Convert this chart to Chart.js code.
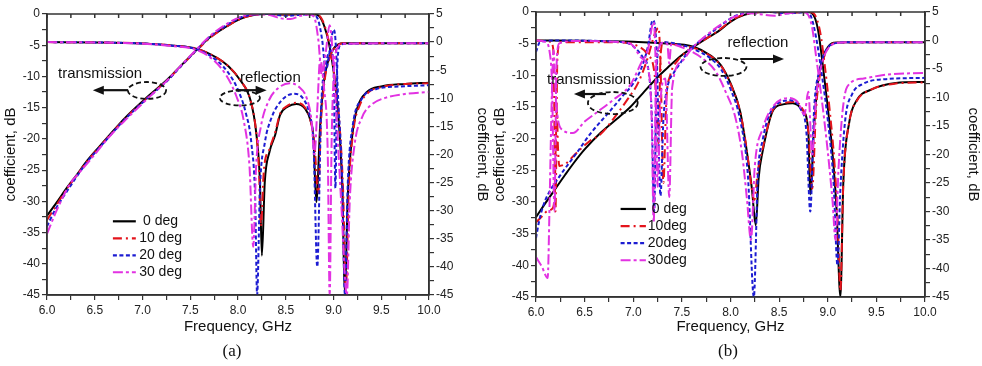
<!DOCTYPE html>
<html><head><meta charset="utf-8">
<script src="https://cdn.jsdelivr.net/npm/chart.js@4"></script>
<style>
body{margin:0;background:#fff;width:982px;height:366px;overflow:hidden;position:relative}
canvas{position:absolute;top:0}
#ca{left:0}#cb{left:491px}
.lab{position:absolute;top:341px;font-family:"Liberation Serif","Times New Roman",serif;font-size:17px;color:#111;width:60px;text-align:center;line-height:20px}
</style></head><body>
<canvas id="ca" width="491" height="366"></canvas>
<canvas id="cb" width="491" height="366"></canvas>
<div class="lab" style="left:202px">(a)</div>
<div class="lab" style="left:698px">(b)</div>
<script>
// ---------- DATA: [frequency GHz, dB] ----------
// Panel (a) transmission (left axis)
const A_T0 = [[6.0,-32.3],[6.1,-30.2],[6.2,-28.0],[6.3,-26.0],[6.42,-23.5],[6.55,-21.2],[6.7,-18.6],[6.82,-16.6],[7.05,-13.3],[7.26,-10.5],[7.4,-8.3],[7.57,-5.7],[7.7,-3.8],[7.88,-2.0],[8.02,-0.8],[8.15,-0.2],[8.3,0],[8.5,-0.1],[8.7,0],[8.82,-0.1],[8.86,-0.5],[8.9,-1.8],[8.95,-4.5],[9.0,-9],[9.05,-16],[9.09,-27],[9.12,-44.5],[9.15,-29],[9.2,-19],[9.25,-15],[9.35,-12.5],[9.5,-11.6],[9.75,-11.2],[10.0,-11.0]];
const A_T10 = [[6.0,-33],[6.1,-30.6],[6.2,-28.2],[6.3,-26.1],[6.42,-23.6],[6.55,-21.3],[6.7,-18.7],[6.82,-16.7],[7.05,-13.4],[7.26,-10.6],[7.4,-8.4],[7.57,-5.8],[7.7,-3.9],[7.88,-2.0],[8.02,-0.8],[8.15,-0.2],[8.3,0],[8.5,-0.1],[8.7,0],[8.83,-0.1],[8.87,-0.6],[8.91,-2],[8.96,-5],[9.01,-10],[9.06,-17],[9.1,-28],[9.13,-44],[9.16,-28],[9.21,-18.5],[9.27,-14.8],[9.37,-12.5],[9.5,-11.7],[9.75,-11.2],[10.0,-11.1]];
const A_T20 = [[6.0,-34],[6.08,-31.5],[6.2,-28.6],[6.3,-26.3],[6.42,-23.7],[6.55,-21.4],[6.7,-18.8],[6.82,-16.8],[7.05,-13.5],[7.26,-10.7],[7.4,-8.4],[7.57,-5.7],[7.7,-3.7],[7.88,-1.8],[8.02,-0.6],[8.15,-0.1],[8.3,0],[8.5,-0.3],[8.7,-0.1],[8.8,-0.2],[8.84,-1],[8.88,-4],[8.92,-9],[8.96,-6],[9.0,-2.5],[9.02,-4],[9.05,-14],[9.09,-26],[9.12,-45],[9.15,-27],[9.2,-18],[9.3,-13.5],[9.45,-12],[9.7,-11.6],[10.0,-11.4]];
const A_T30 = [[6.0,-35.2],[6.1,-31.5],[6.24,-27.2],[6.35,-25.2],[6.5,-22.5],[6.65,-19.7],[6.82,-17],[7.05,-13.6],[7.26,-10.6],[7.4,-8.3],[7.57,-5.6],[7.7,-3.6],[7.88,-1.6],[8.02,-0.5],[8.15,-0.1],[8.3,-0.1],[8.45,-0.7],[8.55,-0.8],[8.65,-0.3],[8.75,-0.1],[8.8,-0.6],[8.84,-4],[8.88,-10],[8.92,-6],[8.96,-1.8],[8.99,-6],[9.03,-16],[9.08,-30],[9.14,-45],[9.17,-30],[9.22,-21],[9.3,-16.5],[9.4,-14.5],[9.55,-13.4],[9.75,-12.8],[10.0,-12.5]];
// Panel (a) reflection (right axis)
const A_R0 = [[6.0,0],[6.5,-0.05],[7.0,-0.25],[7.3,-0.6],[7.57,-1.2],[7.78,-2.8],[7.9,-4.3],[8.02,-6.7],[8.13,-10.3],[8.19,-16],[8.23,-25],[8.25,-38],[8.28,-25],[8.33,-19.5],[8.39,-16.5],[8.44,-13],[8.52,-11.5],[8.61,-11],[8.7,-11.8],[8.76,-14],[8.79,-17],[8.82,-28.5],[8.86,-15],[8.9,-7],[8.95,-3],[9.0,-1.2],[9.05,-0.4],[9.1,-0.2],[10.0,-0.2]];
const A_R10 = [[6.0,0],[6.5,-0.05],[7.0,-0.25],[7.3,-0.6],[7.57,-1.2],[7.78,-2.8],[7.9,-4.3],[8.02,-6.7],[8.13,-10.3],[8.19,-16],[8.22,-23],[8.24,-32.8],[8.27,-23],[8.33,-19],[8.39,-16],[8.44,-12.8],[8.52,-11.3],[8.61,-10.8],[8.7,-11.6],[8.76,-14],[8.8,-18],[8.84,-27],[8.87,-14],[8.91,-6.5],[8.96,-2.8],[9.01,-1.1],[9.06,-0.4],[9.1,-0.2],[10.0,-0.2]];
const A_R20 = [[6.0,0],[6.5,-0.05],[7.0,-0.25],[7.3,-0.6],[7.57,-1.3],[7.78,-3.3],[7.9,-5.5],[8.0,-8.5],[8.08,-12.5],[8.14,-18],[8.18,-28],[8.2,-45],[8.23,-26],[8.28,-18],[8.35,-13.5],[8.45,-10.5],[8.58,-9.2],[8.68,-10],[8.75,-13],[8.79,-18],[8.83,-40],[8.87,-12],[8.92,-4],[8.97,-1.5],[9.0,-4],[9.02,-26],[9.04,-4],[9.07,-0.6],[9.12,-0.3],[10.0,-0.2]];
const A_R30 = [[6.0,0],[6.5,-0.05],[7.0,-0.3],[7.3,-0.7],[7.57,-1.4],[7.75,-3.3],[7.88,-6],[7.98,-9.5],[8.06,-14],[8.12,-22],[8.16,-36.4],[8.19,-22],[8.24,-15],[8.32,-10.5],[8.42,-8.2],[8.54,-7.3],[8.64,-8],[8.72,-10],[8.77,-14],[8.8,-20],[8.83,-12],[8.86,-3],[8.9,-8],[8.94,-20],[8.96,-45],[8.98,-18],[9.01,-4],[9.05,-0.8],[9.1,-0.3],[10.0,-0.2]];
// Panel (b) transmission (left axis)
const B_T0 = [[6.0,-32.4],[6.1,-30.1],[6.2,-27.9],[6.3,-25.7],[6.39,-23.8],[6.5,-21.7],[6.67,-19.0],[6.83,-16.9],[6.97,-15.0],[7.1,-12.8],[7.25,-10.3],[7.36,-8.7],[7.46,-7.3],[7.62,-5.5],[7.75,-4.2],[7.87,-3.1],[7.97,-1.9],[8.07,-0.9],[8.2,-0.2],[8.4,0],[8.6,-0.1],[8.8,0],[8.85,-0.4],[8.9,-2.8],[8.95,-8.5],[9.0,-15],[9.05,-22.5],[9.09,-31],[9.13,-45],[9.16,-27],[9.22,-17.5],[9.3,-13.9],[9.44,-12.3],[9.7,-11.2],[10.0,-11.05]];
const B_T10 = [[6.0,-33.2],[6.06,-32.3],[6.12,-31.4],[6.17,-31.0],[6.19,-29],[6.205,-20],[6.215,-15.5],[6.225,-21],[6.24,-24.3],[6.3,-24.0],[6.4,-22.5],[6.55,-20.4],[6.67,-19.2],[6.8,-16.8],[6.95,-13.6],[7.05,-11.2],[7.15,-7.2],[7.22,-3.5],[7.26,-2.5],[7.28,-8],[7.31,-27],[7.34,-14],[7.38,-10],[7.46,-7.6],[7.62,-5.5],[7.75,-4.2],[7.87,-3.0],[7.97,-1.8],[8.07,-0.8],[8.2,-0.2],[8.4,0],[8.6,-0.1],[8.82,0],[8.87,-0.5],[8.92,-3],[8.97,-8.5],[9.02,-15.5],[9.07,-24],[9.1,-32],[9.13,-44],[9.16,-27],[9.22,-17.5],[9.3,-14],[9.44,-12.3],[9.7,-11.3],[10.0,-11.1]];
const B_T20 = [[6.0,-35.7],[6.03,-33.2],[6.07,-30.8],[6.13,-28.6],[6.2,-26.9],[6.29,-24.9],[6.43,-22.0],[6.56,-19.2],[6.74,-16.0],[6.9,-13.1],[7.0,-11.3],[7.08,-9.0],[7.15,-5.5],[7.2,-1.3],[7.24,-6],[7.28,-29],[7.31,-17],[7.35,-12],[7.42,-9.5],[7.46,-8.6],[7.56,-6.4],[7.66,-4.9],[7.8,-3.3],[7.92,-1.9],[8.05,-0.6],[8.2,-0.1],[8.4,0],[8.6,-0.2],[8.78,0],[8.83,-0.8],[8.88,-4],[8.94,-10],[9.0,-17],[9.06,-27],[9.1,-40],[9.13,-28],[9.18,-17],[9.25,-13],[9.37,-11.3],[9.6,-10.6],[10.0,-10.4]];
const B_T30 = [[6.0,-38.7],[6.06,-40.2],[6.12,-42],[6.14,-30],[6.16,-15],[6.18,-6],[6.2,-12],[6.22,-16.3],[6.27,-18.6],[6.38,-19.1],[6.5,-17.3],[6.63,-15.8],[6.8,-13.8],[6.97,-11.5],[7.08,-8.1],[7.15,-6],[7.21,-1.6],[7.23,-8],[7.25,-27.6],[7.28,-14],[7.33,-10.5],[7.37,-29.2],[7.4,-12],[7.5,-7.8],[7.6,-5.8],[7.75,-3.7],[7.9,-2.0],[8.05,-0.7],[8.2,-0.2],[8.45,-0.6],[8.6,-0.2],[8.75,0],[8.8,-0.5],[8.84,-2.5],[8.88,-7],[8.94,-14],[9.0,-22],[9.05,-30],[9.08,-36],[9.11,-25],[9.15,-16],[9.2,-11.8],[9.37,-10.5],[9.6,-9.9],[10.0,-9.6]];
// Panel (b) reflection (right axis)
const B_R0 = [[6.0,0],[6.5,-0.05],[7.0,-0.2],[7.3,-0.5],[7.62,-1.1],[7.8,-2.7],[7.9,-4.3],[8.0,-7.5],[8.1,-12.5],[8.17,-19.7],[8.22,-26],[8.26,-32.4],[8.29,-24],[8.33,-19.5],[8.44,-12.2],[8.54,-11.2],[8.64,-11.0],[8.74,-12.2],[8.8,-16],[8.82,-27],[8.86,-15],[8.9,-7],[8.95,-3],[9.0,-1.2],[9.06,-0.4],[9.2,-0.3],[10.0,-0.3]];
const B_R10 = [[6.0,0],[6.15,-0.2],[6.18,-2],[6.2,-30],[6.22,-3],[6.25,-0.3],[6.8,-0.3],[7.05,-1],[7.15,-2.5],[7.22,-6],[7.26,-18],[7.28,-3],[7.31,-0.3],[7.45,-0.8],[7.62,-1.3],[7.8,-2.8],[7.9,-4.4],[8.0,-7.6],[8.1,-12.6],[8.17,-19.5],[8.21,-25],[8.245,-28],[8.28,-23],[8.33,-19],[8.44,-12],[8.54,-11],[8.64,-10.8],[8.74,-12],[8.8,-16],[8.84,-26],[8.88,-12],[8.92,-6],[8.97,-2.5],[9.02,-1],[9.08,-0.4],[10.0,-0.3]];
const B_R20 = [[6.0,-2],[6.04,-0.3],[6.2,0],[6.9,-0.3],[7.0,-1],[7.1,-3],[7.16,-5.6],[7.19,-13],[7.215,-30],[7.24,-6],[7.27,-0.8],[7.32,-0.3],[7.5,-0.8],[7.62,-1.5],[7.8,-3.2],[7.9,-5],[8.0,-8.5],[8.1,-14],[8.18,-24],[8.24,-45],[8.28,-24],[8.33,-17.5],[8.44,-11.8],[8.62,-10.5],[8.72,-12],[8.78,-16],[8.82,-30],[8.86,-12],[8.92,-5],[8.98,-1.8],[9.05,-0.6],[9.2,-0.3],[10.0,-0.3]];
const B_R30 = [[6.0,0],[6.1,-0.3],[6.14,-2],[6.165,-8],[6.19,-30],[6.21,-5],[6.24,-0.5],[6.4,-0.1],[6.9,-0.3],[6.99,-0.8],[7.08,-3],[7.16,-5.6],[7.19,-14],[7.21,-32],[7.235,-5],[7.27,-1],[7.3,-0.4],[7.35,-0.6],[7.37,-4],[7.39,-0.7],[7.5,-1.2],[7.7,-3],[7.85,-5.5],[7.95,-9],[8.05,-13.5],[8.12,-20],[8.17,-28],[8.21,-35],[8.25,-22],[8.33,-15.5],[8.44,-11.5],[8.6,-10.1],[8.7,-11],[8.76,-13],[8.8,-9],[8.84,-20],[8.88,-10],[8.94,-4],[9.0,-1.5],[9.08,-0.5],[9.2,-0.3],[10.0,-0.3]];

const LABELS_A = [' 0 deg','10 deg','20 deg','30 deg'];
const LABELS_B = [' 0 deg','10deg','20deg','30deg'];
const X_TICKS = [6.0,6.5,7.0,7.5,8.0,8.5,9.0,9.5,10.0];

// ---------- STYLE ----------
const SANS = '"Liberation Sans", Arial, Helvetica, sans-serif';
const COLORS = ['#000000','#e4141c','#1c1cd2','#e232e2'];
const DASHES = [[],[9,4,2,4],[4,2.5],[10,3,3,3]];
const AXC = '#333';

function ds(pairs, i, axis){
  return {data: pairs.map(p=>({x:p[0],y:p[1]})), borderColor: COLORS[i], backgroundColor: COLORS[i],
    borderDash: DASHES[i], borderWidth: 2, pointRadius: 0, yAxisID: axis,
    cubicInterpolationMode: 'monotone', fill: false};
}
function every(step, fmt){ return v => { const k = v/step; return Math.abs(k-Math.round(k))<1e-6 ? fmt(v) : ''; }; }

const framePlugin = {id:'frame', afterDraw(chart){
  const {ctx, chartArea:a, scales} = chart;
  ctx.save(); ctx.strokeStyle = AXC; ctx.lineWidth = 1.5; ctx.setLineDash([]);
  ctx.strokeRect(a.left, a.top, a.right-a.left, a.bottom-a.top);
  scales.x.ticks.forEach(t => { const px = scales.x.getPixelForValue(t.value);
    ctx.beginPath(); ctx.moveTo(px, a.top); ctx.lineTo(px, a.top+4); ctx.stroke(); });
  ctx.restore();
}};

const notesPlugin = {id:'notes', afterDatasetsDraw(chart, args, o){
  const ctx = chart.ctx, X = chart.scales.x, Y = chart.scales.y;
  ctx.save();
  ctx.fillStyle = '#111'; ctx.strokeStyle = '#111';
  ctx.font = '15px ' + SANS; ctx.textBaseline = 'middle'; ctx.textAlign = 'left';
  o.texts.forEach(t => ctx.fillText(t.text, X.getPixelForValue(t.x), Y.getPixelForValue(t.y)));
  o.ellipses.forEach(e => {
    const cx = X.getPixelForValue(e.x), cy = Y.getPixelForValue(e.y);
    const rx = Math.abs(X.getPixelForValue(e.x+e.rx)-cx), ry = Math.abs(Y.getPixelForValue(e.y+e.ry)-cy);
    ctx.beginPath(); ctx.setLineDash([5,3]); ctx.lineWidth = 1.8;
    ctx.ellipse(cx, cy, rx, ry, 0, 0, Math.PI*2); ctx.stroke();
  });
  ctx.setLineDash([]);
  o.arrows.forEach(a => {
    const x1 = X.getPixelForValue(a.x1), x2 = X.getPixelForValue(a.x2), y = Y.getPixelForValue(a.y);
    const d = Math.sign(x2-x1);
    ctx.lineWidth = 2.2; ctx.beginPath(); ctx.moveTo(x1,y); ctx.lineTo(x2-d*8,y); ctx.stroke();
    ctx.beginPath(); ctx.moveTo(x2,y); ctx.lineTo(x2-d*11,y-4.5); ctx.lineTo(x2-d*11,y+4.5); ctx.closePath(); ctx.fill();
  });
  // legend
  const L = o.legend;
  ctx.font = '14px ' + SANS;
  L.labels.forEach((lab, i) => {
    const y = Y.getPixelForValue(L.y0 + i*L.dy);
    ctx.strokeStyle = COLORS[i]; ctx.lineWidth = 2.2; ctx.setLineDash(DASHES[i]);
    ctx.beginPath(); ctx.moveTo(X.getPixelForValue(L.x1), y); ctx.lineTo(X.getPixelForValue(L.x2), y); ctx.stroke();
    ctx.setLineDash([]); ctx.fillStyle = '#111';
    ctx.fillText(lab, X.getPixelForValue(L.tx), y);
  });
  ctx.restore();
}};

function makeChart(id, T, R, geo, notes){
  const tickFont = {family: SANS, size: 12};
  const titleFont = {family: SANS, size: 15};
  const datasets = [];
  for (let i = 3; i >= 0; i--) { datasets.push(ds(T[i], i, 'y')); datasets.push(ds(R[i], i, 'y1')); }
  const yAxis = (pos, min, max, w, pad) => ({
    type: 'linear', position: pos, min: min, max: max,
    ticks: {stepSize: 2.5, autoSkip: false, color: '#222', font: tickFont, padding: 2,
      callback: every(5, v => String(Math.round(v)))},
    grid: {drawOnChartArea: false, drawTicks: true, tickLength: 5, color: AXC, lineWidth: 1.2},
    border: {color: AXC, width: 1.5},
    title: {display: true, text: 'coefficient, dB', color: '#111', font: titleFont, padding: {top: pad, bottom: 0}},
    afterFit: s => { s.width = w; }
  });
  return new Chart(document.getElementById(id), {
    type: 'line',
    data: {datasets},
    options: {
      responsive: false, animation: false, devicePixelRatio: 1,
      layout: {padding: {top: geo.top, left: 0, right: 0, bottom: 0}},
      plugins: {legend: {display: false}, tooltip: {enabled: false}, notes: notes},
      scales: {
        x: {type: 'linear', min: 6, max: 10,
          ticks: {stepSize: 0.25, autoSkip: false, maxRotation: 0, color: '#222', font: tickFont, padding: 3,
            callback: every(0.5, v => v.toFixed(1))},
          grid: {drawOnChartArea: false, drawTicks: true, tickLength: 5, color: AXC, lineWidth: 1.2},
          border: {color: AXC, width: 1.5},
          title: {display: true, text: 'Frequency, GHz', color: '#111', font: titleFont, padding: {top: 0, bottom: 30}},
          afterFit: s => { s.height = geo.xh; }},
        y: yAxis('left', -45, 0, geo.lw, geo.lpad),
        y1: yAxis('right', -45, 5, geo.rw, geo.rpad)
      }
    },
    plugins: [framePlugin, notesPlugin]
  });
}

makeChart('ca', [A_T0,A_T10,A_T20,A_T30], [A_R0,A_R10,A_R20,A_R30],
  {top: 14, xh: 71, lw: 47, rw: 62, lpad: 2, rpad: 0},
  {texts: [{text:'transmission', x:6.115, y:-9.6}, {text:'reflection', x:8.02, y:-10.25}],
   arrows: [{x1:6.85, x2:6.48, y:-12.2}, {x1:7.975, x2:8.3, y:-12.2}],
   ellipses: [{x:7.047, y:-12.25, rx:0.2, ry:1.36}, {x:8.02, y:-13.45, rx:0.21, ry:1.2}],
   legend: {labels: LABELS_A, x1:6.69, x2:6.93, tx:6.965, y0:-33.2, dy:-2.72}});

makeChart('cb', [B_T0,B_T10,B_T20,B_T30], [B_R0,B_R10,B_R20,B_R30],
  {top: 12, xh: 69, lw: 45, rw: 57, lpad: 0, rpad: 0},
  {texts: [{text:'transmission', x:6.113, y:-10.74}, {text:'reflection', x:7.97, y:-4.9}],
   arrows: [{x1:6.72, x2:6.39, y:-12.95}, {x1:8.1, x2:8.55, y:-7.42}],
   ellipses: [{x:6.79, y:-14.37, rx:0.256, ry:1.74}, {x:7.928, y:-8.68, rx:0.236, ry:1.42}],
   legend: {labels: LABELS_B, x1:6.87, x2:7.13, tx:7.15, y0:-31.1, dy:-2.7}});
</script>
</body></html>
